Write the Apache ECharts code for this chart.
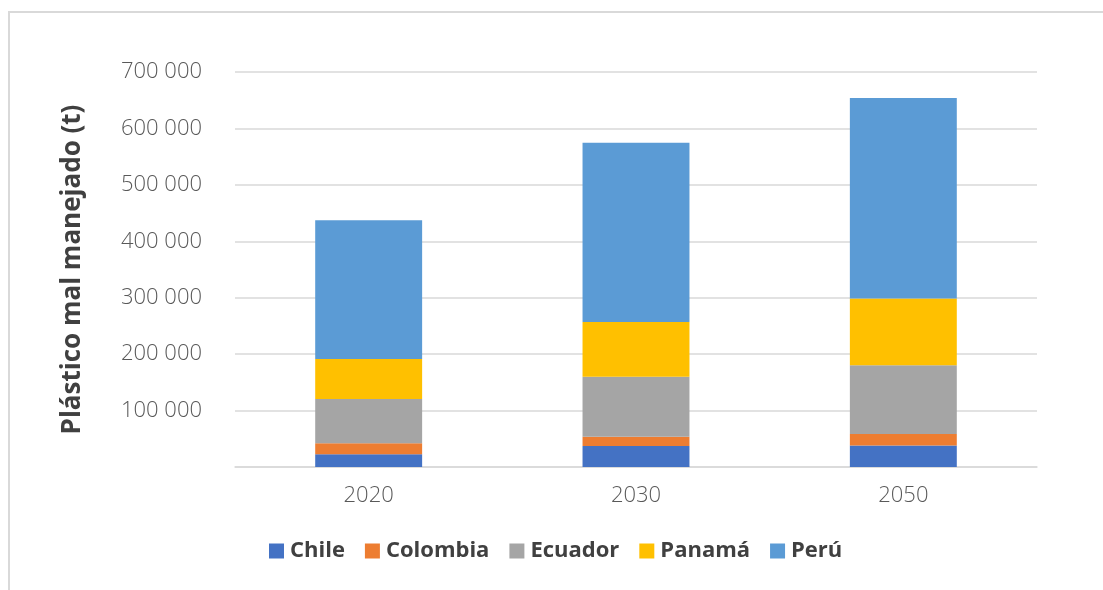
<!DOCTYPE html>
<html>
<head>
<meta charset="utf-8">
<title>Plástico mal manejado</title>
<script src="https://cdn.jsdelivr.net/npm/echarts@6/dist/echarts.min.js"></script>
<style>
  html, body { margin: 0; padding: 0; background: #ffffff; }
  #chart { width: 1103px; height: 590px; }
</style>
</head>
<body>
<div id="chart"></div>
<script>
// Mismanaged plastic by country (tonnes), stacked per year
const years = ['2020', '2030', '2050'];
const chile    = [22500, 37000, 38000];
const colombia = [19500, 16500, 20500];
const ecuador  = [78500, 106500, 122000];
const panama   = [71000, 97000, 118000];
const peru     = [246000, 317500, 355500];

const seriesNames  = ['Chile', 'Colombia', 'Ecuador', 'Panamá', 'Perú'];
const seriesValues = [chile, colombia, ecuador, panama, peru];
const palette = ['#4472C4', '#ED7D31', '#A5A5A5', '#FFC000', '#5B9BD5'];

function formatThousands(v) {
  if (v === 0) return '';
  return String(v).replace(/\B(?=(\d{3})+(?!\d))/g, ' ');
}

const chart = echarts.init(document.getElementById('chart'), null, { renderer: 'canvas' });

chart.setOption({
  animation: false,
  backgroundColor: '#ffffff',
  color: palette,
  graphic: [{
    type: 'rect',
    shape: { x: 9, y: 12, width: 1110, height: 600 },
    style: { fill: 'none', stroke: '#d9d9d9', lineWidth: 2 },
    silent: true
  }],
  grid: { left: 235, right: 66, top: 72, bottom: 123, containLabel: false },
  legend: {
    data: seriesNames,
    left: 264,
    top: 535,
    itemWidth: 15,
    itemHeight: 15,
    itemGap: 20,
    icon: 'rect',
    textStyle: {
      fontFamily: 'Open Sans',
      fontWeight: 'bold',
      fontSize: 22,
      color: '#404040',
      padding: [0, 0, 0, 1]
    }
  },
  xAxis: {
    type: 'category',
    data: years,
    axisLine: { show: true, lineStyle: { color: '#d9d9d9', width: 1.5 } },
    axisTick: { show: false },
    axisLabel: {
      margin: 18,
      fontFamily: 'Open Sans',
      fontWeight: 300,
      fontSize: 22,
      color: '#595959'
    }
  },
  yAxis: {
    type: 'value',
    min: 0,
    max: 700000,
    interval: 100000,
    name: 'Plástico mal manejado (t)',
    nameLocation: 'middle',
    nameGap: 149,
    nameRotate: 90,
    nameTextStyle: {
      fontFamily: 'Open Sans',
      fontWeight: 'bold',
      fontSize: 26,
      color: '#404040'
    },
    axisLine: { show: false },
    axisTick: { show: false },
    splitLine: { show: true, lineStyle: { color: '#d9d9d9', width: 1.5 } },
    axisLabel: {
      margin: 33,
      formatter: formatThousands,
      fontFamily: 'Open Sans',
      fontWeight: 300,
      fontSize: 22,
      color: '#595959'
    }
  },
  series: seriesNames.map((name, i) => ({
    name: name,
    type: 'bar',
    stack: 'total',
    barCategoryGap: '60%',
    data: seriesValues[i],
    itemStyle: { color: palette[i] }
  }))
});
</script>
</body>
</html>
